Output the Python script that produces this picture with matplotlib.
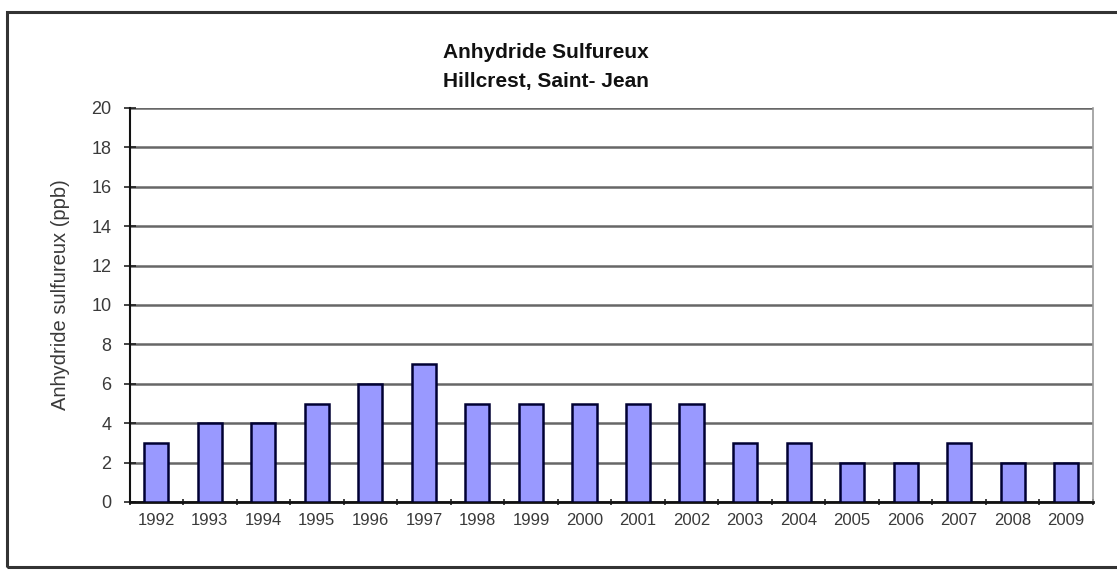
import matplotlib
matplotlib.use("Agg")
import matplotlib.pyplot as plt
from matplotlib.patches import Rectangle
import numpy as np

years = ["1992", "1993", "1994", "1995", "1996", "1997", "1998", "1999", "2000",
         "2001", "2002", "2003", "2004", "2005", "2006", "2007", "2008", "2009"]
so2_ppb = [3, 4, 4, 5, 6, 7, 5, 5, 5, 5, 5, 3, 3, 2, 2, 3, 2, 2]
y_ticks = [0, 2, 4, 6, 8, 10, 12, 14, 16, 18, 20]

plt.rcParams["font.family"] = ["Liberation Sans", "DejaVu Sans"]

W, H = 1117, 570
fig = plt.figure(figsize=(W / 100, H / 100), dpi=100)

# outer chart frame
fig.patches.append(Rectangle((7 / W, 3 / H), (W + 20) / W, (H - 15) / H,
                             transform=fig.transFigure, fill=False,
                             edgecolor="#333333", linewidth=2.2))

ax = fig.add_axes([129.5 / W, 1 - 502 / H, (1093 - 129.5) / W, (502 - 108) / H])

x = np.arange(len(years))
ax.bar(x, so2_ppb, width=0.45, color="#9999FF", edgecolor="#000033",
       linewidth=1.8, zorder=3)

ax.set_xlim(-0.5, len(years) - 0.5)
ax.set_ylim(0, 20)
ax.set_yticks(y_ticks)
ax.set_yticklabels([str(v) for v in y_ticks], fontsize=13, color="#3a3a3a")
ax.set_xticks(x)
ax.set_xticklabels(years, fontsize=12, color="#3a3a3a")
ax.tick_params(axis="x", length=0, pad=8)
ax.set_xticks(np.arange(-0.5, len(years)), minor=True)
ax.tick_params(axis="x", which="minor", length=5, direction="inout",
               width=1.2, color="#222222")
ax.tick_params(axis="y", length=8, direction="inout", width=1.2,
               color="#222222", pad=9)

ax.yaxis.grid(True, color="#676767", linewidth=1.8, zorder=0)
ax.set_axisbelow(True)

ax.spines["top"].set_visible(False)
ax.spines["right"].set_color("#9a9a9a")
ax.spines["right"].set_linewidth(1.2)
ax.spines["left"].set_color("#111111")
ax.spines["left"].set_linewidth(1.5)
ax.spines["bottom"].set_color("#111111")
ax.spines["bottom"].set_linewidth(2.0)

ax.set_ylabel("Anhydride sulfureux (ppb)", fontsize=14.5, color="#3a3a3a")
ax.yaxis.set_label_coords(60 / W, 0.5, transform=fig.transFigure)
ax.yaxis.label.set_va("center")
ax.yaxis.set_label_coords(60 / W, 1 - 295 / H, transform=fig.transFigure)

fig.text(546 / W, 1 - 52 / H, "Anhydride Sulfureux", ha="center", va="center",
         fontsize=15, fontweight="bold", color="#111111")
fig.text(546 / W, 1 - 81 / H, "Hillcrest, Saint- Jean", ha="center",
         va="center", fontsize=15, fontweight="bold", color="#111111")

fig.savefig("out.png", dpi=100)
